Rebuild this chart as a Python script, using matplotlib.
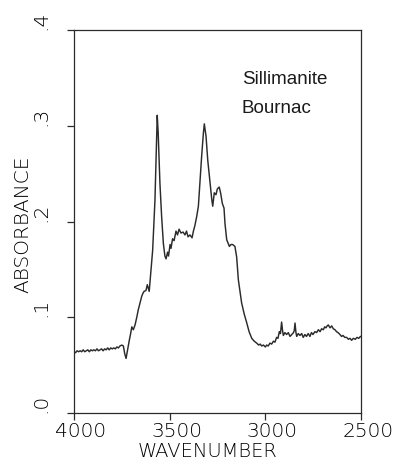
##################################
# Importing necessary modules

import numpy as np
import matplotlib.pyplot as plt
from matplotlib.transforms import ScaledTranslation

##################################
# Data

wavenumber = [
    4000, 3992, 3984, 3976, 3968, 3960, 3952, 3944, 3936, 3928, 3920, 3912,
    3904, 3896, 3888, 3880, 3872, 3864, 3856, 3848, 3840, 3832, 3824, 3816,
    3808, 3800, 3792, 3784, 3776, 3768, 3760, 3750, 3742, 3735, 3728, 3720,
    3711, 3704, 3698, 3690, 3681, 3672, 3664, 3655, 3646, 3640, 3634, 3624,
    3617, 3607, 3599, 3589, 3577, 3568, 3565, 3560, 3551, 3542, 3533, 3525,
    3519, 3511, 3506, 3498, 3493, 3485, 3477, 3467, 3459, 3451, 3441, 3430,
    3420, 3412, 3404, 3394, 3383, 3376, 3368, 3359, 3350, 3342, 3333, 3324,
    3319, 3310, 3301, 3289, 3280, 3275, 3267, 3258, 3251, 3241, 3233, 3225,
    3216, 3211, 3202, 3188, 3180, 3171, 3159, 3150, 3141, 3132, 3124, 3110,
    3097, 3085, 3071, 3058, 3045, 3035, 3027, 3019, 3010, 3000, 2993, 2985,
    2976, 2967, 2958, 2950, 2941, 2934, 2927, 2921, 2915, 2910, 2906, 2898,
    2889, 2880, 2871, 2862, 2853, 2849, 2845, 2840, 2836, 2828, 2819, 2810,
    2802, 2793, 2785, 2776, 2767, 2759, 2751, 2741, 2732, 2723, 2714, 2706,
    2697, 2690, 2683, 2677, 2671, 2662, 2653, 2645, 2636, 2628, 2620, 2610,
    2602, 2594, 2585, 2575, 2566, 2558, 2549, 2540, 2530, 2521, 2512, 2503,
    2500,
]
absorbance = [
    0.064, 0.063, 0.065, 0.064, 0.065, 0.064, 0.066, 0.064, 0.065, 0.066, 0.064, 0.066,
    0.065, 0.066, 0.065, 0.067, 0.065, 0.066, 0.067, 0.065, 0.067, 0.066, 0.068, 0.066,
    0.068, 0.067, 0.068, 0.067, 0.069, 0.068, 0.070, 0.071, 0.070, 0.062, 0.057, 0.066,
    0.076, 0.083, 0.090, 0.087, 0.092, 0.100, 0.108, 0.115, 0.122, 0.125, 0.127, 0.128,
    0.134, 0.127, 0.146, 0.170, 0.222, 0.292, 0.311, 0.292, 0.240, 0.205, 0.177, 0.164,
    0.161, 0.168, 0.164, 0.176, 0.172, 0.182, 0.180, 0.190, 0.186, 0.192, 0.188, 0.189,
    0.186, 0.190, 0.184, 0.186, 0.183, 0.190, 0.196, 0.205, 0.216, 0.240, 0.268, 0.292,
    0.302, 0.289, 0.264, 0.240, 0.223, 0.216, 0.230, 0.228, 0.234, 0.236, 0.229, 0.219,
    0.214, 0.198, 0.181, 0.174, 0.176, 0.176, 0.174, 0.163, 0.139, 0.126, 0.115, 0.103,
    0.094, 0.085, 0.078, 0.075, 0.073, 0.071, 0.072, 0.070, 0.071, 0.069, 0.071, 0.070,
    0.073, 0.072, 0.075, 0.074, 0.079, 0.078, 0.085, 0.083, 0.095, 0.086, 0.081, 0.084,
    0.082, 0.084, 0.080, 0.082, 0.084, 0.086, 0.094, 0.084, 0.080, 0.083, 0.081, 0.083,
    0.079, 0.082, 0.080, 0.083, 0.080, 0.084, 0.082, 0.085, 0.084, 0.087, 0.085, 0.088,
    0.087, 0.090, 0.089, 0.091, 0.092, 0.089, 0.091, 0.088, 0.087, 0.085, 0.084, 0.082,
    0.080, 0.081, 0.079, 0.079, 0.077, 0.078, 0.076, 0.078, 0.077, 0.079, 0.078, 0.080,
    0.080,
]

x_ticks = [4000, 3500, 3000, 2500]
x_tick_labels = ['4000', '3500', '3000', '2500']
y_ticks = [0.0, 0.1, 0.2, 0.3, 0.4]
y_tick_labels = ['.0', '.1', '.2', '.3', '.4']
sample_lines = ['Sillimanite', 'Bournac']

##################################
# Graphing

ink = '#2b2b2b'
plot_font = dict(family='DejaVu Sans', size=14.5, weight='light', color='black')

fig = plt.figure(figsize=(3.99, 4.62), dpi=100)
ax = fig.add_axes([0.1855, 0.106, 0.7193, 0.829])

ax.plot(wavenumber, absorbance, color=ink, lw=1.05)

ax.set_xlim(4000, 2500)
ax.set_ylim(0.0, 0.4)

for side in ax.spines.values():
    side.set_linewidth(0.9)
    side.set_color(ink)

# ticks + labels in plotter style
ax.set_xticks(x_ticks)
ax.set_xticklabels(x_tick_labels, fontdict=plot_font)
ax.set_yticks(y_ticks)
ax.set_yticklabels(y_tick_labels, fontdict=plot_font, rotation=90, va='bottom')
ax.tick_params(axis='x', direction='out', length=5, width=0.9, color=ink, pad=1.5)
ax.tick_params(axis='y', direction='out', length=5, width=0.9, color=ink, pad=12)

shift = ScaledTranslation(0.07, 0, fig.dpi_scale_trans)
for lab in ax.get_xticklabels():
    lab.set_transform(lab.get_transform() + shift)

ax.set_xlabel('WAVENUMBER', fontdict=dict(plot_font, size=14), va='bottom')
ax.xaxis.set_label_coords(0.467, -0.1245)
ax.set_ylabel('ABSORBANCE', fontdict=plot_font)
ax.yaxis.set_label_coords(-0.145, 0.493)

# sample name
for i, line in enumerate(sample_lines):
    ax.text(0.585, 0.859 - i * 0.075, line, transform=ax.transAxes,
            family='Liberation Sans', fontsize=13.5, color='#1a1a1a',
            va='baseline', ha='left')

plt.savefig('out.png', dpi=100)

# End of program
##################################
